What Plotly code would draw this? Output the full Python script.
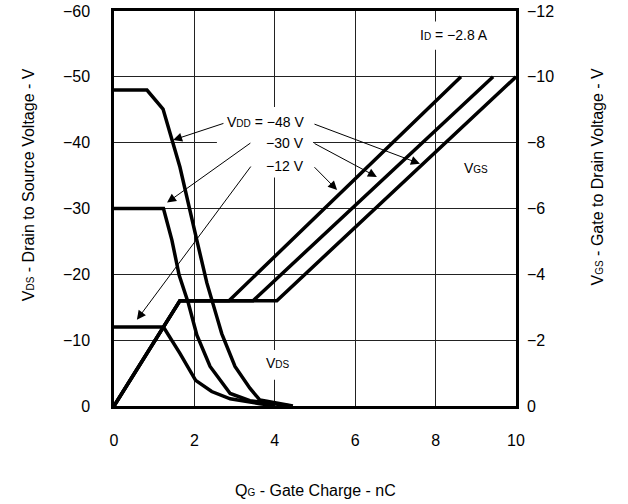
import plotly.graph_objects as go

# ---- data ----
# VDS curves (left axis, volts, negative)
qg_vds_48 = [0, 0.82, 1.22, 1.47, 1.64, 2.06, 2.31, 2.56, 2.68, 3.01, 3.38, 3.63, 4.45]
vds_48 = [-48, -48, -45.1, -40, -36.3, -25.2, -18.7, -13.5, -11, -6.0, -2.7, -0.9, 0]

qg_vds_30 = [0, 1.23, 1.44, 1.62, 1.85, 2.06, 2.39, 2.89, 3.38, 4.05, 4.4]
vds_30 = [-30, -30, -25.2, -19.9, -15.6, -10.8, -6.0, -1.9, -0.8, -0.3, 0]

qg_vds_12 = [0, 1.23, 1.64, 2.03, 2.43, 2.89, 3.63, 4.0]
vds_12 = [-12, -12, -8.0, -3.9, -2.2, -1.1, -0.35, 0]

# VGS curves (right axis, volts, negative)
qg_vgs_12 = [0, 1.64, 2.86, 8.63]
qg_vgs_30 = [0, 1.64, 3.46, 9.43]
qg_vgs_48 = [0, 1.64, 4.05, 10.0]
vgs_vals = [0, -3.2, -3.2, -10.0]

x_ticks = [0, 2, 4, 6, 8, 10]
left_ticks = [0, -10, -20, -30, -40, -50, -60]
left_labels = ["0", "−10", "−20", "−30", "−40", "−50", "−60"]
right_ticks = [0, -2, -4, -6, -8, -10, -12]
right_labels = ["0", "−2", "−4", "−6", "−8", "−10", "−12"]

FONT = "Liberation Sans, Arial, sans-serif"
LW = 3.5

fig = go.Figure()
for q, v in [(qg_vds_48, vds_48), (qg_vds_30, vds_30), (qg_vds_12, vds_12)]:
    fig.add_trace(go.Scatter(x=q, y=v, mode="lines", line=dict(color="black", width=LW),
                             yaxis="y", showlegend=False, hoverinfo="skip"))
for q in [qg_vgs_12, qg_vgs_30, qg_vgs_48]:
    fig.add_trace(go.Scatter(x=q, y=vgs_vals, mode="lines", line=dict(color="black", width=LW),
                             yaxis="y2", showlegend=False, hoverinfo="skip"))

# white label backgrounds that interrupt gridlines
for x0, x1, y0, y1 in [(2.56, 4.95, -45.4, -34.7), (7.49, 9.4, -58.4, -54.1), (3.68, 4.5, -8.5, -4.0)]:
    fig.add_shape(type="rect", xref="x", yref="y", x0=x0, x1=x1, y0=y0, y1=y1,
                  fillcolor="white", line=dict(width=0), layer="between")

sub = lambda s: f'<span style="font-size:10px">{s}</span>'
ann_font = dict(family=FONT, size=14, color="black")

texts = [
    (f"V{sub('DD')} = −48 V", 4.78, -43.2, "right"),
    ("−30 V", 4.78, -39.9, "right"),
    ("−12 V", 4.78, -36.4, "right"),
    (f"I{sub('D')} = −2.8 A", 8.46, -56.4, "center"),
    (f"V{sub('GS')}", 9.0, -36.2, "center"),
    (f"V{sub('DS')}", 4.08, -6.5, "center"),
]
for t, x, y, xa in texts:
    fig.add_annotation(text=t, x=x, y=y, xref="x", yref="y", xanchor=xa, yanchor="middle",
                       showarrow=False, font=ann_font)

arrows = [
    ((2.76, -43.0), (1.47, -40.4)),
    ((3.43, -40.1), (1.32, -30.9)),
    ((3.43, -36.6), (0.57, -13.1)),
    ((4.95, -42.9), (7.61, -36.8)),
    ((4.95, -40.0), (6.54, -34.8)),
    ((4.95, -36.5), (5.55, -32.8)),
]
for (tx, ty), (hx, hy) in arrows:
    fig.add_annotation(text="", x=hx, y=hy, ax=tx, ay=ty, xref="x", yref="y", axref="x", ayref="y",
                       showarrow=True, arrowhead=2, arrowsize=1.8, arrowwidth=1, arrowcolor="black",
                       standoff=0, startstandoff=0)

# axis titles
fig.add_annotation(text=f"V{sub('DS')} - Drain to Source Voltage - V", xref="paper", yref="paper",
                   x=-0.239, y=0.56, textangle=-90, showarrow=False,
                   font=dict(family=FONT, size=16, color="black"))
fig.add_annotation(text=f"V{sub('GS')} - Gate to Drain Voltage - V", xref="paper", yref="paper",
                   x=1.229, y=0.58, textangle=-90, showarrow=False,
                   font=dict(family=FONT, size=16, color="black"))
fig.add_annotation(text=f"Q{sub('G')} - Gate Charge - nC", xref="paper", yref="paper",
                   x=0.5, y=-0.213, showarrow=False, yanchor="middle",
                   font=dict(family=FONT, size=16, color="black"))

fig.update_layout(
    width=628, height=504,
    margin=dict(l=114, r=112, t=11, b=98, autoexpand=False),
    paper_bgcolor="white", plot_bgcolor="white",
    font=dict(family=FONT, size=16, color="black"),
    xaxis=dict(range=[0, 10], tickvals=x_ticks, ticktext=[str(v) for v in x_ticks],
               showgrid=True, gridcolor="#222", gridwidth=1, zeroline=False,
               showline=True, linecolor="black", linewidth=2.5, mirror=True, automargin=False,
               ticks="", ticklabelstandoff=18, tickfont=dict(size=16)),
    yaxis=dict(range=[0, -60], tickvals=left_ticks, ticktext=left_labels,
               showgrid=True, gridcolor="#222", gridwidth=1, zeroline=False,
               showline=True, linecolor="black", linewidth=2.5, mirror=True, automargin=False,
               ticks="", ticklabelstandoff=18, tickfont=dict(size=16)),
    yaxis2=dict(range=[0, -12], tickvals=right_ticks, ticktext=right_labels, overlaying="y",
                side="right", showgrid=False, zeroline=False, showline=False, automargin=False,
                ticks="", ticklabelstandoff=10, tickfont=dict(size=16)),
)

fig.write_html("out.html", config={"displayModeBar": False},
               post_script="document.body.style.margin='0';document.body.style.padding='0';")
